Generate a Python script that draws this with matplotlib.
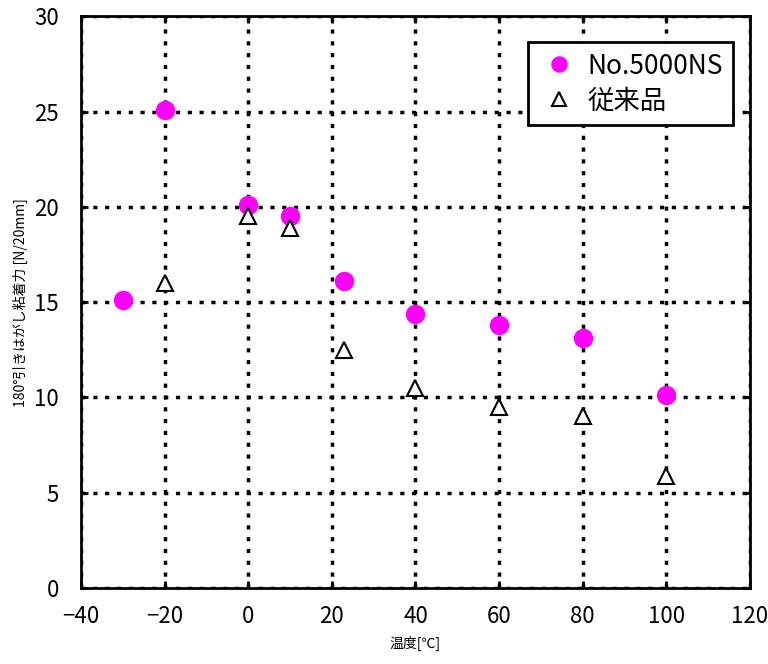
import matplotlib
matplotlib.use("Agg")
import matplotlib.pyplot as plt

plt.rcParams['font.family'] = ['Noto Sans CJK JP', 'DejaVu Sans']

# 温度 [℃] と 180°引きはがし粘着力 [N/20mm]
temp_ns = [-30, -20, 0, 10, 23, 40, 60, 80, 100]
force_ns = [15.1, 25.1, 20.1, 19.5, 16.1, 14.4, 13.8, 13.1, 10.1]

temp_old = [-20, 0, 10, 23, 40, 60, 80, 100]
force_old = [16.0, 19.5, 18.9, 12.5, 10.5, 9.5, 9.0, 5.9]

xticks = [-40, -20, 0, 20, 40, 60, 80, 100, 120]
yticks = [0, 5, 10, 15, 20, 25, 30]

fig = plt.figure(figsize=(7.68, 6.64), dpi=100)
ax = fig.add_axes([0.1055, 0.1145, 0.871, 0.861])

ax.plot(temp_ns, force_ns, 'o', color='#ff00ff', markersize=14, markeredgewidth=0,
        label='No.5000NS', zorder=3)
ax.plot(temp_old, force_old, '^', markerfacecolor='white', markeredgecolor='black',
        markersize=12, markeredgewidth=1.5, label='従来品', zorder=3)

ax.set_xlim(-40, 120)
ax.set_ylim(0, 30)
ax.set_xticks(xticks)
ax.set_yticks(yticks)
ax.grid(True, color='black', linestyle=(0, (1.2, 2.2)), linewidth=2.5)
ax.tick_params(direction='in', length=5, width=2, top=True, right=True, labelsize=16)
ax.tick_params(axis='x', pad=12)
ax.tick_params(axis='y', pad=16)

for s in ax.spines.values():
    s.set_linewidth(2)

ax.set_xlabel('温度[℃]', fontsize=10, labelpad=6)
ax.set_ylabel('180°引きはがし粘着力 [N/20mm]', fontsize=10, labelpad=4)

leg = ax.legend(loc='upper right', bbox_to_anchor=(0.975, 0.955), fontsize=19,
                frameon=True, fancybox=False, edgecolor='black',
                handletextpad=0.25, borderpad=0.4, labelspacing=0.3, handlelength=1.6,
                borderaxespad=0, markerscale=0.85)
leg.get_frame().set_linewidth(2)
leg.get_frame().set_alpha(1)

fig.savefig('out.png', dpi=100)
